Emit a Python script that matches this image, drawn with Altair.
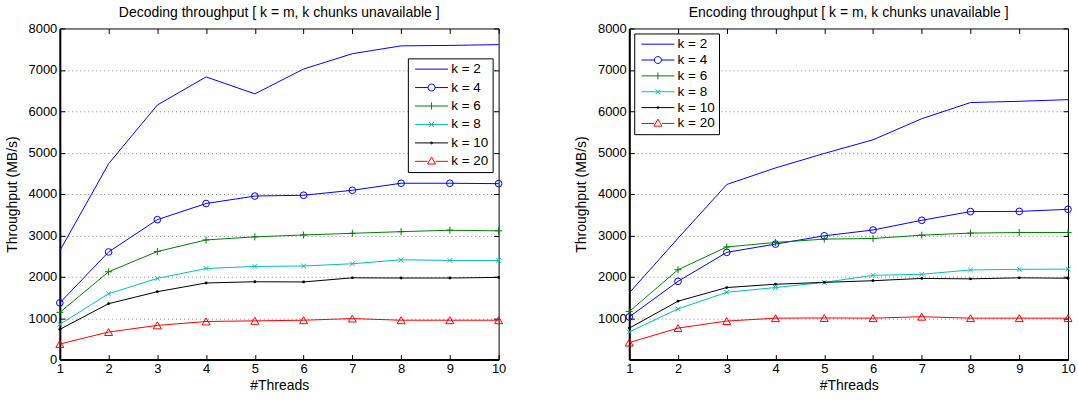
import altair as alt
import pandas as pd

# Thread counts on the x axis
threads = [1, 2, 3, 4, 5, 6, 7, 8, 9, 10]

# Series names, colours and markers
series = ["k = 2", "k = 4", "k = 6", "k = 8", "k = 10", "k = 20"]
colors = ["#0000ff", "#0000ff", "#008000", "#00bfbf", "#000000", "#ff0000"]

# Decoding throughput (MB/s)
dec_k2 = [2630, 4730, 6150, 6830, 6420, 7020, 7390, 7580, 7590, 7610]
dec_k4 = [1370, 2600, 3380, 3770, 3950, 3970, 4090, 4260, 4260, 4250]
dec_k6 = [1140, 2120, 2610, 2890, 2965, 3010, 3050, 3090, 3125, 3110]
dec_k8 = [850, 1590, 1960, 2200, 2250, 2260, 2315, 2410, 2395, 2395]
dec_k10 = [730, 1350, 1640, 1850, 1880, 1875, 1975, 1970, 1970, 1985]
dec_k20 = [375, 665, 825, 920, 935, 950, 990, 950, 950, 950]

# Encoding throughput (MB/s)
enc_k2 = [1610, 2930, 4230, 4630, 4980, 5310, 5820, 6210, 6240, 6280]
enc_k4 = [1030, 1890, 2590, 2790, 2990, 3130, 3365, 3575, 3580, 3630]
enc_k6 = [1160, 2170, 2720, 2830, 2910, 2925, 3005, 3055, 3070, 3070]
enc_k8 = [665, 1225, 1625, 1740, 1865, 2035, 2060, 2165, 2180, 2185]
enc_k10 = [760, 1410, 1740, 1820, 1865, 1905, 1960, 1950, 1975, 1965]
enc_k20 = [410, 760, 930, 1000, 1005, 1000, 1035, 1000, 1000, 1000]

# Point markers drawn on the data (None = plain line)
marker_shapes = [None, "circle", "M-1,0L1,0M0,-1L0,1", "M-1,-1L1,1M-1,1L1,-1", "circle", "triangle-up"]
marker_sizes = [0, 45, 49, 22, 8, 64]
marker_filled = [False, False, False, False, True, False]

# Legend symbols: a short line segment with the marker in the middle (pixel units)
legend_paths = [
    "M-16.5,0L16.5,0",
    "M-16.5,0L-3.5,0M3.5,0L16.5,0M-3.5,0A3.5,3.5 0 1,0 3.5,0A3.5,3.5 0 1,0 -3.5,0Z",
    "M-16.5,0L16.5,0M0,-3.5L0,3.5",
    "M-16.5,0L16.5,0M-2.5,-2.5L2.5,2.5M-2.5,2.5L2.5,-2.5",
    "M-16.5,0L16.5,0M-1,0A1,1 0 1,0 1,0A1,1 0 1,0 -1,0Z",
    "M-16.5,0L-4,0M4,0L16.5,0M0,-4.3L4,2.7L-4,2.7Z",
]

y_ticks = list(range(0, 8001, 1000))


def long_table(columns):
    rows = []
    for name, vals in zip(series, columns):
        for t, v in zip(threads, vals):
            rows.append({"k": name, "threads": t, "value": v})
    return pd.DataFrame(rows)


def panel(df, title, lx, ly, row_pad, hide_zero):
    x_scale = alt.Scale(domain=[1, 10], nice=False, zero=False)
    y_scale = alt.Scale(domain=[0, 8000], nice=False)

    legend = alt.Legend(
        title=None, orient="none", legendX=lx, legendY=ly,
        fillColor="white", strokeColor="black",
        padding=4, rowPadding=row_pad, labelFontSize=13.5, labelColor="black",
        symbolSize=4, symbolStrokeWidth=1, symbolOffset=13, labelOffset=13,
        symbolFillColor="white",
    )
    color = alt.Color("k:N", scale=alt.Scale(domain=series, range=colors), legend=legend)

    # Inward-pointing ticks: axes pulled inside the frame by their own tick length
    x_bottom = alt.Axis(
        values=threads, format="d", title="#Threads", offset=-5, tickSize=5,
        labelPadding=3, titlePadding=3, domain=False, grid=False, labelFlush=False,
    )
    y_left = alt.Axis(
        values=y_ticks, format="d", title="Throughput (MB/s)",
        offset=-5, tickSize=5, labelPadding=3, titlePadding=9, domain=False,
        grid=True, gridColor="#8a8a8a", gridDash=[1, 3], gridWidth=1, labelFlush=False,
        labelExpr="datum.value == 0 ? '' : datum.label" if hide_zero else "datum.label",
    )
    x_top = alt.Axis(
        values=threads, orient="top", labels=False, title=None, offset=-5,
        tickSize=5, domain=False, grid=False,
    )
    y_right = alt.Axis(
        values=y_ticks, orient="right", labels=False, title=None,
        offset=-5, tickSize=5, domain=False, grid=False,
    )
    # Heavier left and bottom frame lines
    x_frame = alt.Axis(
        values=threads, orient="bottom", labels=False, ticks=False, title=None,
        domain=True, domainColor="black", domainWidth=2, grid=False,
    )
    y_frame = alt.Axis(
        values=y_ticks, orient="left", labels=False, ticks=False, title=None,
        domain=True, domainColor="black", domainWidth=2, grid=False,
    )

    lines = alt.Chart(df).mark_line(strokeWidth=1).encode(
        x=alt.X("threads:Q", scale=x_scale, axis=x_bottom),
        y=alt.Y("value:Q", scale=y_scale, axis=y_left),
        color=color,
    )

    layers = [lines]
    first = True
    for name, col, shape, size, filled in zip(series, colors, marker_shapes, marker_sizes, marker_filled):
        if shape is None:
            continue
        layers.append(
            alt.Chart(df)
            .transform_filter(alt.datum.k == name)
            .mark_point(shape=shape, size=size, filled=filled, color=col, strokeWidth=1, opacity=1)
            .encode(
                x=alt.X("threads:Q", scale=x_scale, axis=x_frame if first else None),
                y=alt.Y("value:Q", scale=y_scale, axis=y_frame if first else None),
            )
        )
        first = False

    # Empty layer carrying the top/right tick marks and the legend symbols
    key = alt.Chart(df).transform_filter("false").mark_point(filled=False, opacity=1).encode(
        x=alt.X("threads:Q", scale=x_scale, axis=x_top),
        y=alt.Y("value:Q", scale=y_scale, axis=y_right),
        color=color,
        shape=alt.Shape("k:N", scale=alt.Scale(domain=series, range=legend_paths), legend=legend),
    )
    layers.append(key)

    return (
        alt.layer(*layers)
        .resolve_axis(x="independent", y="independent")
        .properties(
            width=440, height=332,
            title=alt.Title(title, fontSize=14, fontWeight="normal", offset=2, anchor="middle"),
        )
    )


decoding = panel(long_table([dec_k2, dec_k4, dec_k6, dec_k8, dec_k10, dec_k20]),
                 "Decoding throughput [ k = m, k chunks unavailable ]", 349, 30, 3.5, False)
encoding = panel(long_table([enc_k2, enc_k4, enc_k6, enc_k8, enc_k10, enc_k20]),
                 "Encoding throughput [ k = m, k chunks unavailable ]", 5, 5, 0.9, True)

chart = (
    alt.hconcat(decoding, encoding, spacing=67)
    .resolve_scale(color="independent", shape="independent")
    .resolve_legend(color="independent", shape="independent")
    .configure(font="Liberation Sans", padding={"left": 4, "top": 5, "right": 2, "bottom": 0},
               background="white")
    .configure_view(stroke="black", strokeWidth=1)
    .configure_axis(labelFontSize=13, labelColor="black", titleFontSize=14,
                    titleFontWeight="normal", titleColor="black", tickColor="black", tickWidth=1)
    .configure_legend(labelFont="Liberation Sans")
)

chart.save("out.html", embed_options={"renderer": "svg", "actions": False})
